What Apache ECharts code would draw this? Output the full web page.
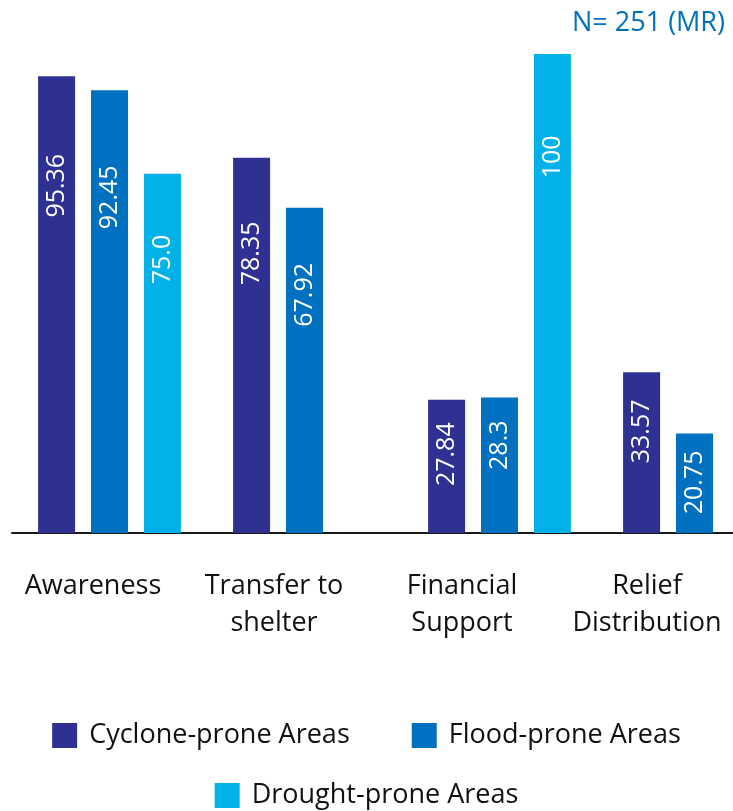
<!DOCTYPE html>
<html>
<head>
<meta charset="utf-8">
<script src="https://cdn.jsdelivr.net/npm/echarts@6/dist/echarts.min.js"></script>
<style>
html,body{margin:0;padding:0;background:#fff;}
#chart{width:733px;height:811px;}
</style>
</head>
<body>
<div id="chart"></div>
<script>
var categories = ['Awareness', 'Transfer to\nshelter', 'Financial\nSupport', 'Relief\nDistribution'];
var cycloneValues = [95.36, 78.35, 27.84, 33.57];
var floodValues = [92.45, 67.92, 28.3, 20.75];
var droughtValues = [75.0, null, 100, null];
var seriesNames = ['Cyclone-prone Areas', 'Flood-prone Areas', 'Drought-prone Areas'];
var titleText = 'N= 251 (MR)';

var FONT = '"Open Sans", sans-serif';
var colors = ['#2E3192', '#0070C0', '#00B2E8'];
var labelShift = [33, 61, 75, 95];

function fmt(p) {
  var v = p.value;
  if (v === null || v === undefined) return '';
  if (Number.isInteger(v) && v < 100) return v.toFixed(1);
  return String(v);
}

function makeSeries(name, data, color) {
  return {
    name: name,
    type: 'bar',
    data: data,
    barWidth: 37,
    barGap: '43%',
    itemStyle: { color: color },
    label: {
      show: true,
      position: ['50%', '17%'],
      rotate: 90,
      align: 'right',
      verticalAlign: 'middle',
      color: '#fff',
      fontFamily: FONT,
      fontSize: 25,
      formatter: fmt
    }
  };
}

var rich = {};
labelShift.forEach(function (s, i) {
  rich['l' + i] = {
    fontFamily: FONT, fontSize: 27, color: '#111', lineHeight: 37,
    padding: [0, s, 0, 0]
  };
});

var legendText = { fontFamily: FONT, fontSize: 27, color: '#111', padding: [0, 0, 0, 7] };

var chart = echarts.init(document.getElementById('chart'));
chart.setOption({
  animation: false,
  title: {
    text: titleText,
    right: 3,
    top: 5,
    textStyle: { fontFamily: FONT, fontSize: 27, fontWeight: 'normal', color: '#0070C0' }
  },
  legend: [{
    data: [seriesNames[0], seriesNames[1]],
    left: 'center',
    top: 722,
    padding: 0,
    icon: 'rect',
    itemWidth: 25,
    itemHeight: 25,
    itemGap: 62,
    textStyle: legendText
  }, {
    data: [seriesNames[2]],
    left: 'center',
    top: 782,
    padding: 0,
    icon: 'rect',
    itemWidth: 25,
    itemHeight: 25,
    textStyle: legendText
  }],
  grid: { left: 12, right: -59, top: 54, bottom: 278, containLabel: false, outerBoundsMode: 'none' },
  xAxis: {
    type: 'category',
    data: categories,
    axisLine: { show: true, lineStyle: { color: '#1a1a1a', width: 2 } },
    axisTick: { show: false },
    axisLabel: {
      interval: 0,
      margin: 35,
      formatter: function (val, idx) {
        return val.split('\n').map(function (line) {
          return '{l' + idx + '|' + line + '}';
        }).join('\n');
      },
      rich: rich
    }
  },
  yAxis: {
    type: 'value',
    min: 0,
    max: 100,
    show: false,
    splitLine: { show: false }
  },
  series: [
    makeSeries(seriesNames[0], cycloneValues, colors[0]),
    makeSeries(seriesNames[1], floodValues, colors[1]),
    makeSeries(seriesNames[2], droughtValues, colors[2])
  ]
});
</script>
</body>
</html>
